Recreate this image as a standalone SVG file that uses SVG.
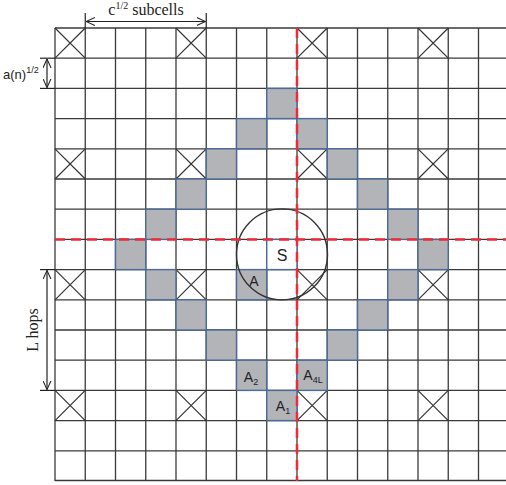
<svg xmlns="http://www.w3.org/2000/svg" width="506" height="485" viewBox="0 0 506 485">
<defs>
<marker id="ah" viewBox="0 0 10 10" refX="10" refY="5" markerWidth="9" markerHeight="9" markerUnits="userSpaceOnUse" orient="auto-start-reverse">
<polyline points="0,0.5 10,5 0,9.5" fill="none" stroke="#222" stroke-width="1.2"/>
</marker>
</defs>
<style>
.grid line{stroke:#3a3a3a;stroke-width:1.3}
.x path{fill:none;stroke:#333;stroke-width:1.2}
rect.g{fill:#b3b4b8;stroke:#4a6a98;stroke-width:1.4}
.lbl{font-family:"Liberation Sans",Arial,sans-serif;font-size:14px;fill:#222;text-anchor:middle}
.sub{font-size:9px}
.serif{font-family:"Liberation Serif","Times New Roman",serif;font-size:16px;fill:#222}
.dim{stroke:#222;stroke-width:1.2;fill:none}
.red{stroke:#ee2a35;stroke-width:2.5;stroke-dasharray:10,6;fill:none}
</style>
<rect width="506" height="485" fill="#fff"/>
<g class="grid" id="grid">
<line x1="55" y1="28" x2="506" y2="28"/>
<line x1="55" y1="58.2" x2="506" y2="58.2"/>
<line x1="55" y1="88.4" x2="506" y2="88.4"/>
<line x1="55" y1="118.6" x2="506" y2="118.6"/>
<line x1="55" y1="148.8" x2="506" y2="148.8"/>
<line x1="55" y1="179" x2="506" y2="179"/>
<line x1="55" y1="209.2" x2="506" y2="209.2"/>
<line x1="55" y1="239.4" x2="506" y2="239.4"/>
<line x1="55" y1="269.6" x2="506" y2="269.6"/>
<line x1="55" y1="299.8" x2="506" y2="299.8"/>
<line x1="55" y1="330" x2="506" y2="330"/>
<line x1="55" y1="360.2" x2="506" y2="360.2"/>
<line x1="55" y1="390.4" x2="506" y2="390.4"/>
<line x1="55" y1="420.6" x2="506" y2="420.6"/>
<line x1="55" y1="450.8" x2="506" y2="450.8"/>
<line x1="55" y1="480.5" x2="506" y2="480.5"/>
<line x1="55" y1="28" x2="55" y2="481"/>
<line x1="85.25" y1="28" x2="85.25" y2="481"/>
<line x1="115.5" y1="28" x2="115.5" y2="481"/>
<line x1="145.75" y1="28" x2="145.75" y2="481"/>
<line x1="176" y1="28" x2="176" y2="481"/>
<line x1="206.25" y1="28" x2="206.25" y2="481"/>
<line x1="236.5" y1="28" x2="236.5" y2="481"/>
<line x1="266.75" y1="28" x2="266.75" y2="481"/>
<line x1="297" y1="28" x2="297" y2="481"/>
<line x1="327.25" y1="28" x2="327.25" y2="481"/>
<line x1="357.5" y1="28" x2="357.5" y2="481"/>
<line x1="387.75" y1="28" x2="387.75" y2="481"/>
<line x1="418" y1="28" x2="418" y2="481"/>
<line x1="448.25" y1="28" x2="448.25" y2="481"/>
<line x1="478.5" y1="28" x2="478.5" y2="481"/>
</g>
<g class="x" id="crosses">
<path d="M55,28 l30.25,30.2 m-30.25,0 l30.25,-30.2"/>
<path d="M176,28 l30.25,30.2 m-30.25,0 l30.25,-30.2"/>
<path d="M297,28 l30.25,30.2 m-30.25,0 l30.25,-30.2"/>
<path d="M418,28 l30.25,30.2 m-30.25,0 l30.25,-30.2"/>
<path d="M55,148.8 l30.25,30.2 m-30.25,0 l30.25,-30.2"/>
<path d="M176,148.8 l30.25,30.2 m-30.25,0 l30.25,-30.2"/>
<path d="M297,148.8 l30.25,30.2 m-30.25,0 l30.25,-30.2"/>
<path d="M418,148.8 l30.25,30.2 m-30.25,0 l30.25,-30.2"/>
<path d="M55,269.6 l30.25,30.2 m-30.25,0 l30.25,-30.2"/>
<path d="M176,269.6 l30.25,30.2 m-30.25,0 l30.25,-30.2"/>
<path d="M297,269.6 l30.25,30.2 m-30.25,0 l30.25,-30.2"/>
<path d="M418,269.6 l30.25,30.2 m-30.25,0 l30.25,-30.2"/>
<path d="M55,390.4 l30.25,30.2 m-30.25,0 l30.25,-30.2"/>
<path d="M176,390.4 l30.25,30.2 m-30.25,0 l30.25,-30.2"/>
<path d="M297,390.4 l30.25,30.2 m-30.25,0 l30.25,-30.2"/>
<path d="M418,390.4 l30.25,30.2 m-30.25,0 l30.25,-30.2"/>
</g>
<g id="cells">
<rect class="g" x="266.75" y="88.4" width="30.25" height="30.2"/>
<rect class="g" x="236.5" y="118.6" width="30.25" height="30.2"/>
<rect class="g" x="297" y="118.6" width="30.25" height="30.2"/>
<rect class="g" x="206.25" y="148.8" width="30.25" height="30.2"/>
<rect class="g" x="327.25" y="148.8" width="30.25" height="30.2"/>
<rect class="g" x="176" y="179" width="30.25" height="30.2"/>
<rect class="g" x="357.5" y="179" width="30.25" height="30.2"/>
<rect class="g" x="145.75" y="209.2" width="30.25" height="30.2"/>
<rect class="g" x="387.75" y="209.2" width="30.25" height="30.2"/>
<rect class="g" x="115.5" y="239.4" width="30.25" height="30.2"/>
<rect class="g" x="418" y="239.4" width="30.25" height="30.2"/>
<rect class="g" x="145.75" y="269.6" width="30.25" height="30.2"/>
<rect class="g" x="387.75" y="269.6" width="30.25" height="30.2"/>
<rect class="g" x="176" y="299.8" width="30.25" height="30.2"/>
<rect class="g" x="357.5" y="299.8" width="30.25" height="30.2"/>
<rect class="g" x="206.25" y="330" width="30.25" height="30.2"/>
<rect class="g" x="327.25" y="330" width="30.25" height="30.2"/>
</g>
<g id="nodeA">
<rect class="g" x="236.5" y="269.6" width="30.25" height="30.2" fill="#b3b4b8"/>
<text class="lbl" x="254" y="286">A</text>
</g>
<g id="nodeA2">
<rect class="g" x="236.5" y="360.2" width="30.25" height="30.2" fill="#b3b4b8"/>
<text class="lbl" x="251" y="382">A<tspan class="sub" dy="3">2</tspan></text>
</g>
<g id="nodeA4L">
<rect class="g" x="297" y="360.2" width="30.25" height="30.2" fill="#b3b4b8"/>
<text class="lbl" x="313" y="380">A<tspan class="sub" dy="3">4L</tspan></text>
</g>
<g id="nodeA1">
<rect class="g" x="266.75" y="390.4" width="30.25" height="30.2" fill="#b3b4b8"/>
<text class="lbl" x="283" y="411">A<tspan class="sub" dy="3">1</tspan></text>
</g>
<g id="nodeS">
<rect x="266.75" y="239.4" width="30.25" height="30.2" fill="#fff" stroke="#4a6a98" stroke-width="1.4"/>
<text class="lbl" x="282" y="261" style="font-size:16px">S</text>
<circle cx="282" cy="254.4" r="45.5" fill="none" stroke="#333" stroke-width="1.4"/>
</g>
<g id="connectors">
<line class="red" x1="55" y1="239.4" x2="506" y2="239.4"/>
<line class="red" x1="297" y1="28" x2="297" y2="481"/>
<line class="dim" x1="85.25" y1="13" x2="85.25" y2="28"/>
<line class="dim" x1="206.25" y1="13" x2="206.25" y2="28"/>
<line class="dim" x1="86" y1="21.5" x2="205.5" y2="21.5" marker-start="url(#ah)" marker-end="url(#ah)"/>
<line class="dim" x1="40" y1="58.2" x2="55" y2="58.2"/>
<line class="dim" x1="40" y1="88.4" x2="55" y2="88.4"/>
<line class="dim" x1="47" y1="59" x2="47" y2="87.6" marker-start="url(#ah)" marker-end="url(#ah)"/>
<line class="dim" x1="40" y1="269.6" x2="55" y2="269.6"/>
<line class="dim" x1="40" y1="390.4" x2="55" y2="390.4"/>
<line class="dim" x1="47" y1="270.4" x2="47" y2="389.6" marker-start="url(#ah)" marker-end="url(#ah)"/>
</g>
<g id="labels">
<text class="serif" x="146" y="15" text-anchor="middle">c<tspan font-size="10" dy="-6">1/2</tspan><tspan dy="6"> subcells</tspan></text>
<text x="3" y="79" style="font-family:'Liberation Sans',Arial,sans-serif;font-size:13px;fill:#222">a(n)<tspan font-size="9" dy="-6">1/2</tspan></text>
<text class="serif" transform="translate(38,330) rotate(-90)" text-anchor="middle">L hops</text>
</g>
</svg>
